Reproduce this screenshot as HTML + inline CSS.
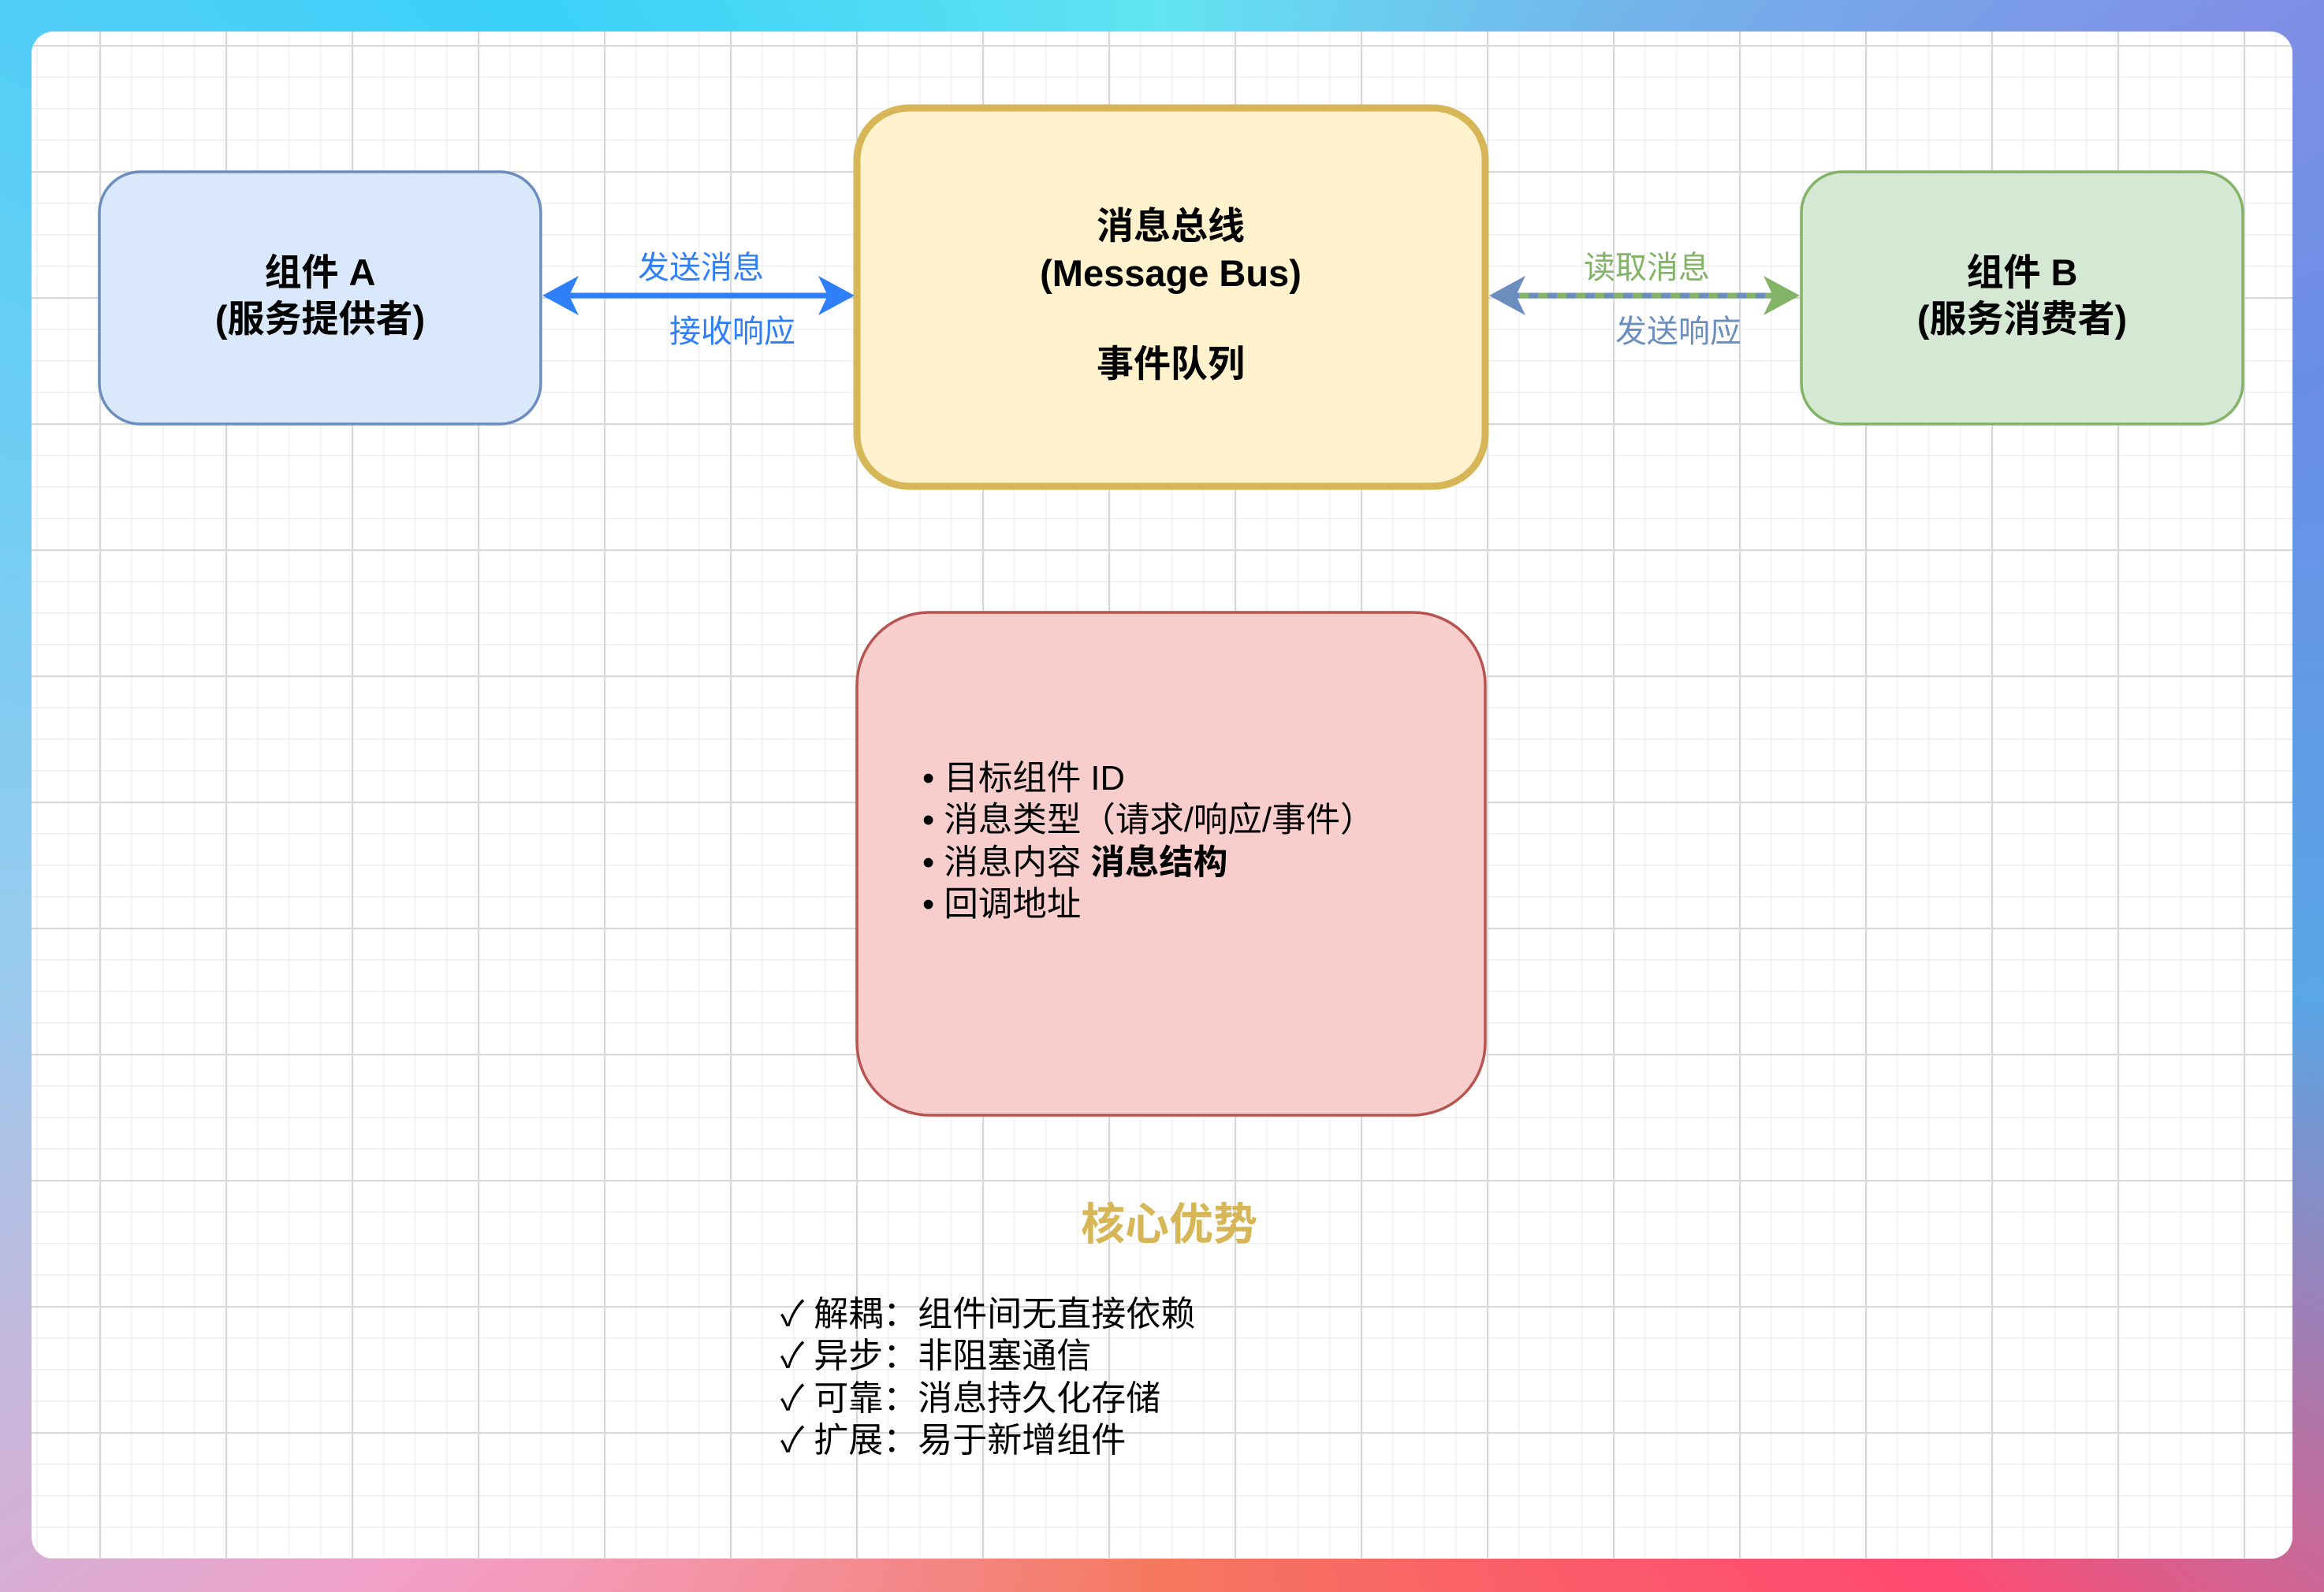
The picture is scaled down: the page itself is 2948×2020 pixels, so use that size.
<!DOCTYPE html>
<html><head><meta charset="utf-8"><style>
html,body{margin:0;padding:0;width:2948px;height:2020px;overflow:hidden;}
body{background:conic-gradient(from 0deg at 50% 50%,#62e4f2 0deg,#7f90e6 55deg,#6a8ee6 70deg,#5aa6e6 100deg,#ff4a72 135deg,#f5785e 180deg,#f3a0c8 225deg,#9ccbee 260deg,#58cef6 300deg,#3ad0f8 320deg,#62e4f2 360deg);}
svg{position:absolute;left:0;top:0;}
text{font-family:"Liberation Sans","Noto Sans CJK SC",sans-serif;}
</style></head><body>
<svg width="2948" height="2020" viewBox="0 0 2948 2020" xmlns="http://www.w3.org/2000/svg">
<defs>
<pattern id="minor" patternUnits="userSpaceOnUse" width="40" height="40" x="6" y="17">
<path d="M0 0.5H40M0.5 0V40" stroke="#efefef" stroke-width="2" fill="none"/>
</pattern>
<pattern id="major" patternUnits="userSpaceOnUse" width="160" height="160" x="126" y="57">
<path d="M0 1H160M1 0V160" stroke="#d8d8d8" stroke-width="2.5" fill="none"/>
</pattern>
<clipPath id="card"><rect x="40" y="40" width="2868" height="1938" rx="28"/></clipPath>
</defs>
<rect x="40" y="40" width="2868" height="1938" rx="28" fill="#fff"/>
<g clip-path="url(#card)">
<rect x="40" y="40" width="2868" height="1938" fill="url(#minor)"/>
<rect x="40" y="40" width="2868" height="1938" fill="url(#major)"/>
</g>

<rect x="126" y="218" width="560" height="320" rx="52" fill="#dae8fc" stroke="#6c8ebf" stroke-width="3.5"/>
<text x="406" y="362" font-size="47" font-weight="bold" text-anchor="middle" fill="#000">组件 A</text>
<text x="406" y="421" font-size="47" font-weight="bold" text-anchor="middle" fill="#000">(服务提供者)</text>

<rect x="1087" y="137" width="797" height="480" rx="66" fill="#fff2cc" stroke="#d6b656" stroke-width="9"/>
<text x="1485" y="303" font-size="47" font-weight="bold" text-anchor="middle" fill="#000">消息总线</text>
<text x="1485" y="363" font-size="47" font-weight="bold" text-anchor="middle" fill="#000">(Message Bus)</text>
<text x="1485" y="478" font-size="47" font-weight="bold" text-anchor="middle" fill="#000">事件队列</text>

<rect x="2285" y="218" width="560" height="320" rx="52" fill="#d5e8d4" stroke="#82b366" stroke-width="3.5"/>
<text x="2565" y="362" font-size="47" font-weight="bold" text-anchor="middle" fill="#000">组件 B</text>
<text x="2565" y="421" font-size="47" font-weight="bold" text-anchor="middle" fill="#000">(服务消费者)</text>

<line x1="715" y1="375" x2="1055" y2="375" stroke="#2f80f8" stroke-width="7"/>
<polygon points="688,375 734,350 722,375 734,400" fill="#2f80f8"/>
<polygon points="1084,375 1038,350 1050,375 1038,400" fill="#2f80f8"/>
<text x="889" y="353" font-size="40" text-anchor="middle" fill="#2f80f8">发送消息</text>
<text x="929" y="434" font-size="40" text-anchor="middle" fill="#2f80f8">接收响应</text>

<line x1="1915" y1="375" x2="2255" y2="375" stroke="#82b366" stroke-width="7"/>
<line x1="1915" y1="375" x2="2255" y2="375" stroke="#6c8ebf" stroke-width="7" stroke-dasharray="12 12"/>
<polygon points="1889,375 1935,350 1923,375 1935,400" fill="#6c8ebf"/>
<polygon points="2283,375 2237,350 2249,375 2237,400" fill="#82b366"/>
<text x="2089" y="353" font-size="40" text-anchor="middle" fill="#82b366">读取消息</text>
<text x="2129" y="434" font-size="40" text-anchor="middle" fill="#6c8ebf">发送响应</text>

<rect x="1087" y="777" width="797" height="638" rx="92" fill="#f8cecc" stroke="#b85450" stroke-width="3.5"/>
<g font-size="43.5" fill="#000">
<text x="1170" y="1002">• 目标组件 ID</text>
<text x="1170" y="1055">• 消息类型（请求/响应/事件）</text>
<text x="1170" y="1109">• 消息内容 <tspan font-weight="bold">消息结构</tspan></text>
<text x="1170" y="1162">• 回调地址</text>
</g>

<text x="1483" y="1573" font-size="56" font-weight="bold" text-anchor="middle" fill="#d6b656">核心优势</text>
<g font-size="44" fill="#000">
<text x="990" y="1682">✓ 解耦：组件间无直接依赖</text>
<text x="990" y="1735">✓ 异步：非阻塞通信</text>
<text x="990" y="1789">✓ 可靠：消息持久化存储</text>
<text x="990" y="1842">✓ 扩展：易于新增组件</text>
</g>
</svg>
</body></html>
